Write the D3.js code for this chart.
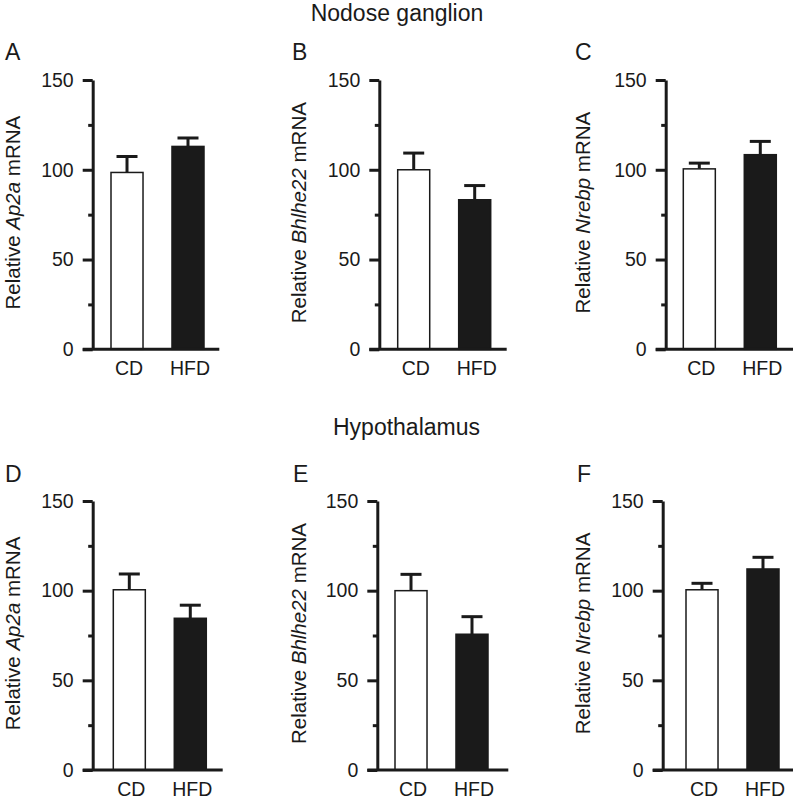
<!DOCTYPE html>
<html><head><meta charset="utf-8">
<script src="https://cdn.jsdelivr.net/npm/d3@7"></script>
<style>
html,body{margin:0;padding:0;background:#fff;}
text{font-family:"Liberation Sans",Arial,sans-serif;fill:#1a1a1a;}
</style></head>
<body><svg id="chart" width="793" height="803"></svg>
<script>
// ---- data ----
const categories = ["CD", "HFD"];
const panelLetters = ["A", "B", "C", "D", "E", "F"];
const genes = ["Ap2a", "Bhlhe22", "Nrebp", "Ap2a", "Bhlhe22", "Nrebp"];
const sectionTitles = ["Nodose ganglion", "Hypothalamus"];
const meanCD  = [98.5, 100, 100.5, 100.5, 100, 100.5];
const meanHFD = [113, 83.3, 108.4, 84.6, 75.7, 112.1];
const semCD   = [8.9, 9.3, 3.2, 8.8, 9.1, 3.6];
const semHFD  = [4.7, 7.9, 7.4, 7.3, 9.8, 6.5];
const yMajorTicks = [0, 50, 100, 150];
const yMinorTicks = [25, 75, 125];
const yDomain = [0, 150];

// ---- layout ----
const rowY = [{y0: 349.3, yTop: 80, letterY: 60, titleY: 21, titleX: 397},
              {y0: 770, yTop: 501, letterY: 482, titleY: 435, titleX: 406.5}];
const layout = [
  {ax: 92.7,  b0: 18.3, xEnd: 126.6, letterX: 5,   labX: 19.5},
  {ax: 379.3, b0: 18.4, xEnd: 127.4, letterX: 292, labX: 306},
  {ax: 665.7, b0: 17.6, xEnd: 128,   letterX: 575, labX: 590},
  {ax: 92.7,  b0: 20.6, xEnd: 130,   letterX: 5,   labX: 20},
  {ax: 377.3, b0: 17.7, xEnd: 131,   letterX: 293, labX: 306},
  {ax: 662.7, b0: 23.3, xEnd: 131,   letterX: 577, labX: 590}
];
const dark = "#1a1a1a";
const svg = d3.select("#chart");

sectionTitles.forEach((t, i) => {
  svg.append("text").attr("x", rowY[i].titleX).attr("y", rowY[i].titleY)
    .attr("text-anchor", "middle").style("font-size", "23px").text(t);
});

panelLetters.forEach((letter, i) => {
  const row = rowY[Math.floor(i / 3)];
  const L = layout[i];
  const y = d3.scaleLinear().domain(yDomain).range([row.y0, row.yTop]);
  const x = d3.scaleBand().domain(categories)
    .range([L.ax + L.b0, L.ax + L.b0 + 93]).paddingInner(0.475).paddingOuter(0);
  const g = svg.append("g");

  // panel letter
  g.append("text").attr("x", L.letterX).attr("y", row.letterY)
    .style("font-size", "23px").text(letter);

  // y label
  const lab = g.append("text")
    .attr("transform", `translate(${L.labX},${(row.y0 + row.yTop) / 2 - 2}) rotate(-90)`)
    .attr("text-anchor", "middle").style("font-size", "20.5px");
  lab.append("tspan").text("Relative ");
  lab.append("tspan").style("font-style", "italic").text(genes[i]);
  lab.append("tspan").text(" mRNA");

  // bars
  const vals = [meanCD[i], meanHFD[i]];
  const errs = [semCD[i], semHFD[i]];
  const fills = ["#ffffff", dark];
  categories.forEach((c, k) => {
    const cx = x(c) + x.bandwidth() / 2;
    g.append("line").attr("x1", cx).attr("x2", cx)
      .attr("y1", y(vals[k])).attr("y2", y(vals[k] + errs[k]))
      .attr("stroke", dark).attr("stroke-width", 3);
    g.append("line").attr("x1", cx - 10.5).attr("x2", cx + 10.5)
      .attr("y1", y(vals[k] + errs[k])).attr("y2", y(vals[k] + errs[k]))
      .attr("stroke", dark).attr("stroke-width", 3);
    g.append("rect").attr("x", x(c)).attr("width", x.bandwidth())
      .attr("y", y(vals[k])).attr("height", y(0) - y(vals[k]))
      .attr("fill", fills[k]).attr("stroke", dark).attr("stroke-width", 1.5);
  });

  // y axis major
  const ya = g.append("g").attr("transform", `translate(${L.ax},0)`)
    .call(d3.axisLeft(y).tickValues(yMajorTicks).tickSize(10).tickSizeOuter(0).tickPadding(9));
  ya.select(".domain").attr("stroke", dark).attr("stroke-width", 3);
  ya.selectAll(".tick line").attr("stroke", dark).attr("stroke-width", 3);
  ya.selectAll(".tick text").style("font-size", "19.5px").attr("fill", dark)
    .style("font-family", "'Liberation Sans', Arial, sans-serif");
  // minor
  const ym = g.append("g").attr("transform", `translate(${L.ax},0)`)
    .call(d3.axisLeft(y).tickValues(yMinorTicks).tickSize(4.5).tickFormat(""));
  ym.select(".domain").remove();
  ym.selectAll(".tick line").attr("stroke", dark).attr("stroke-width", 3);

  // x axis
  g.append("line").attr("x1", L.ax - 10).attr("x2", Math.min(L.ax + L.xEnd, 793))
    .attr("y1", y(0)).attr("y2", y(0)).attr("stroke", dark).attr("stroke-width", 3);
  const xa = g.append("g").attr("transform", `translate(2,${y(0)})`)
    .call(d3.axisBottom(x).tickSize(0).tickPadding(12));
  xa.select(".domain").remove();
  xa.selectAll(".tick text").style("font-size", "19.5px").attr("fill", dark)
    .style("font-family", "'Liberation Sans', Arial, sans-serif");
});
</script></body></html>
